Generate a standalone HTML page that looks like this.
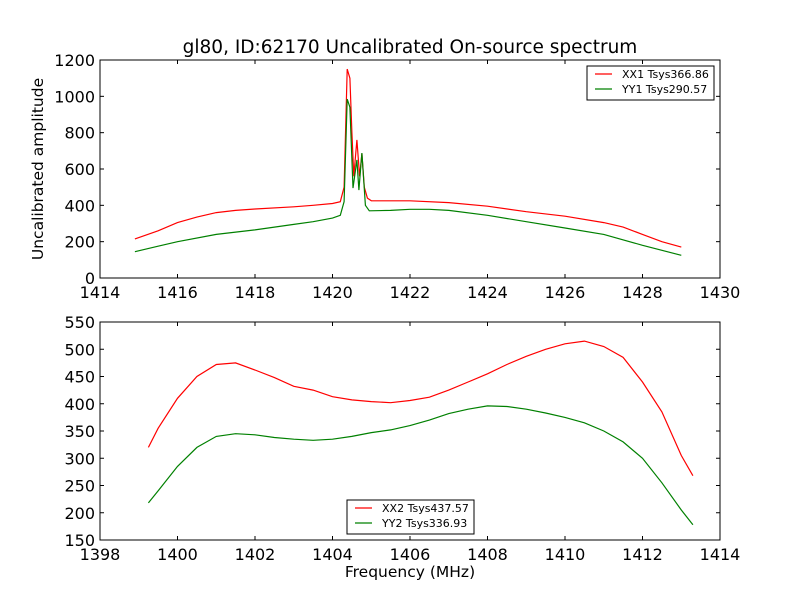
<!DOCTYPE html>
<html><head><meta charset="utf-8"><style>
body{margin:0;background:#fff;}
svg{display:block;font-family:"DejaVu Sans","Liberation Sans",sans-serif;}
</style></head><body>
<svg id="chart" width="800" height="600">
<rect width="800" height="600" fill="#fff"/>
<text x="410" y="53" font-size="18.5" text-anchor="middle">gl80, ID:62170 Uncalibrated On-source spectrum</text>
<text x="0" y="0" font-size="15.5" text-anchor="middle" transform="translate(43,169) rotate(-90)">Uncalibrated amplitude</text>
<text x="410" y="577" font-size="15.5" text-anchor="middle">Frequency (MHz)</text>
</svg>
<script>
const topXTicks=[1414,1416,1418,1420,1422,1424,1426,1428,1430];
const topYTicks=[0,200,400,600,800,1000,1200];
const botXTicks=[1398,1400,1402,1404,1406,1408,1410,1412,1414];
const botYTicks=[150,200,250,300,350,400,450,500,550];
const xx1Freq=[1414.9,1415.5,1416,1416.5,1417,1417.5,1418,1419,1419.5,1420,1420.2,1420.3,1420.38,1420.45,1420.5,1420.55,1420.63,1420.7,1420.76,1420.82,1420.9,1421,1422,1423,1424,1425,1426,1427,1427.5,1428,1428.5,1429];
const xx1Amp=[215,260,305,335,360,372,380,392,400,410,420,500,1150,1100,800,560,760,560,685,500,440,425,425,415,395,365,340,305,280,240,200,170];
const yy1Freq=[1414.9,1415.5,1416,1417,1418,1419,1419.5,1420,1420.2,1420.3,1420.38,1420.45,1420.53,1420.63,1420.68,1420.76,1420.85,1420.95,1421.5,1422,1422.5,1423,1424,1425,1426,1427,1428,1429];
const yy1Amp=[145,175,200,240,265,295,310,330,345,420,985,940,495,650,484,688,400,370,372,378,378,372,345,310,275,240,180,125];
const botFreq=[1399.25,1399.5,1400,1400.5,1401,1401.5,1402,1402.5,1403,1403.5,1404,1404.5,1405,1405.5,1406,1406.5,1407,1407.5,1408,1408.5,1409,1409.5,1410,1410.5,1411,1411.5,1412,1412.5,1413,1413.3];
const xx2Amp=[320,355,410,450,472,475,462,448,432,425,413,407,404,402,406,412,425,440,455,472,487,500,510,515,505,485,440,385,305,268];
const yy2Amp=[218,240,285,320,340,345,343,338,335,333,335,340,347,352,360,370,382,390,396,395,390,383,375,365,350,330,300,255,205,178];

const NS='http://www.w3.org/2000/svg';
const svg=document.getElementById('chart');
function mk(tag,attrs,parent){const e=document.createElementNS(NS,tag);for(const k in attrs)e.setAttribute(k,attrs[k]);(parent||svg).appendChild(e);return e;}

function panel(name,x0,x1,y0,y1,xmin,xmax,ymin,ymax,xt,yt,series,legend){
  const g=mk('g',{});
  
  
  const sx=v=>x0+(v-xmin)/(xmax-xmin)*(x1-x0);
  const sy=v=>y1-(v-ymin)/(ymax-ymin)*(y1-y0);
  series.forEach(s=>{
    const p=mk('polyline',{points:s.f.map((f,i)=>sx(f).toFixed(1)+','+sy(s.a[i]).toFixed(1)).join(' '),fill:'none',stroke:s.c,'stroke-width':1.2},g);
    
    
  });
  const fr=mk('rect',{x:x0,y:y0,width:x1-x0,height:y1-y0,fill:'none',stroke:'#000','stroke-width':1},g);
  
  
  xt.forEach(v=>{const x=sx(v);
    mk('line',{x1:x,x2:x,y1:y1,y2:y1-4,stroke:'#000'},g);mk('line',{x1:x,x2:x,y1:y0,y2:y0+4,stroke:'#000'},g);
    const t=mk('text',{x:x,y:y1+20,'font-size':16,'text-anchor':'middle'},g);t.textContent=v;
    
    });
  yt.forEach(v=>{const y=sy(v);
    mk('line',{x1:x0,x2:x0+4,y1:y,y2:y,stroke:'#000'},g);mk('line',{x1:x1,x2:x1-4,y1:y,y2:y,stroke:'#000'},g);
    const t=mk('text',{x:x0-5,y:y+6,'font-size':16,'text-anchor':'end'},g);t.textContent=v;
    
    });
  const lg=mk('g',{},g);
  
  
  mk('rect',{x:legend.x,y:legend.y,width:127,height:34,fill:'#fff',stroke:'#000'},lg);
  series.forEach((s,i)=>{const yy=legend.y+8+i*15;
    mk('line',{x1:legend.x+8,x2:legend.x+25,y1:yy,y2:yy,stroke:s.c,'stroke-width':1.2},lg);
    const t=mk('text',{x:legend.x+35,y:yy+4,'font-size':11},lg);t.textContent=s.label;
    
    });
}
panel('top-panel',100,720,60,278,1414,1430,0,1200,topXTicks,topYTicks,
  [{f:xx1Freq,a:xx1Amp,c:'#ff0000',name:'xx1-line',label:'XX1 Tsys366.86'},
   {f:yy1Freq,a:yy1Amp,c:'#008000',name:'yy1-line',label:'YY1 Tsys290.57'}],{x:587,y:66});
panel('bottom-panel',100,720,322,540,1398,1414,150,550,botXTicks,botYTicks,
  [{f:botFreq,a:xx2Amp,c:'#ff0000',name:'xx2-line',label:'XX2 Tsys437.57'},
   {f:botFreq,a:yy2Amp,c:'#008000',name:'yy2-line',label:'YY2 Tsys336.93'}],{x:347,y:500});
</script>
</body></html>
